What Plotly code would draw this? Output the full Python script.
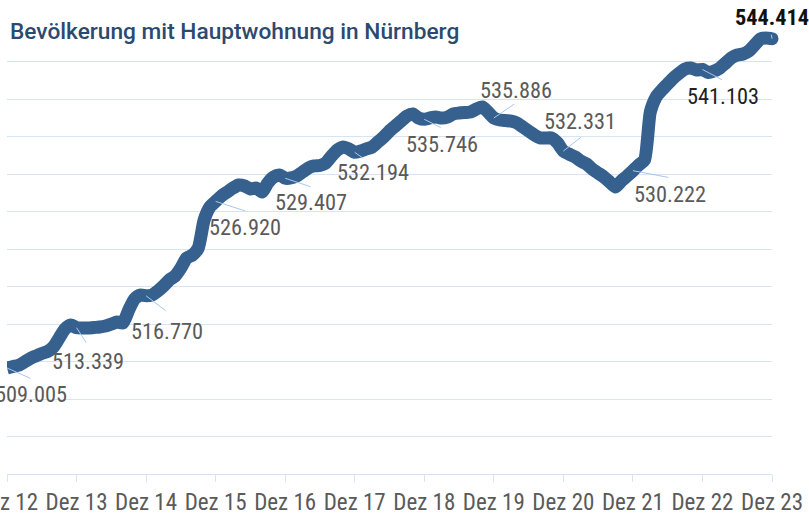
import plotly.graph_objects as go

# Monthly population (thousands), Dez 2012 ... Dez 2023
values = [
    509.005, 509.17, 509.30, 509.65, 510.03, 510.30, 510.56, 510.78, 511.26, 512.23, 513.20, 513.63,
    513.339, 513.30, 513.30, 513.36, 513.41, 513.52, 513.73, 513.95, 513.84, 515.24, 516.42, 516.85,
    516.770, 516.85, 517.28, 517.82, 518.47, 518.90, 519.76, 520.83, 521.15, 521.90, 524.90, 526.32,
    526.920, 527.50, 527.93, 528.36, 528.68, 528.58, 528.25, 528.36, 527.93, 528.90, 529.54, 529.76,
    529.407, 529.44, 529.65, 530.08, 530.51, 530.73, 530.78, 531.05, 531.80, 532.45, 532.77, 532.56,
    532.194, 532.34, 532.56, 532.77, 533.31, 533.85, 534.49, 535.03, 535.56, 536.10, 536.32, 535.89,
    535.746, 535.89, 535.99, 535.89, 535.99, 536.32, 536.42, 536.48, 536.53, 536.85, 537.07, 536.53,
    535.886, 535.67, 535.61, 535.56, 535.35, 534.92, 534.49, 534.06, 533.74, 533.74, 533.74, 533.20,
    532.331, 532.00, 531.70, 531.26, 530.94, 530.40, 529.97, 529.54, 529.00, 528.47, 529.11, 529.65,
    530.222, 530.83, 531.37, 536.53, 538.15, 538.90, 539.54, 540.19, 540.72, 541.16, 541.26, 541.05,
    541.103, 540.78, 540.94, 541.26, 541.80, 542.34, 542.66, 542.77, 543.09, 543.74, 544.38, 544.49,
    544.414,
]
months = list(range(len(values)))

tick_months = [0, 12, 24, 36, 48, 60, 72, 84, 96, 108, 120, 132]
tick_labels = ["Dez 12", "Dez 13", "Dez 14", "Dez 15", "Dez 16", "Dez 17",
               "Dez 18", "Dez 19", "Dez 20", "Dez 21", "Dez 22", "Dez 23"]

label_months = tick_months
label_texts = ["509.005", "513.339", "516.770", "526.920", "529.407", "532.194",
               "535.746", "535.886", "532.331", "530.222", "541.103", "544.414"]

# pixel offsets for leader lines (ax, ay) and text centers (xshift, yshift)
leader = [(25, 11), (11, 17), (21, 16), (31, 10), (27, 9), (10, 7),
          (18, 9), (22, -15), (19, -15), (37, 7), (21, 11), (-1, -6)]
textpos = [(24, -26), (11, -33), (21, -35), (29, -26), (26, -24), (18, -20),
           (18, -25), (22, 28), (17, 30), (37, -23), (21, -27), (0, 22)]
text_colors = ["#5a5a5a"] * 10 + ["#222222", "#111111"]

FONT = "Roboto Condensed"
LINE = "#36618f"
GRID = "#d6e4f4"
LEAD = "#a9c8ec"

fig = go.Figure()
fig.add_trace(go.Scatter(x=months, y=values, mode="lines",
                         line=dict(color=LINE, width=13, shape="spline", smoothing=0.6),
                         hoverinfo="skip"))
fig.add_trace(go.Scatter(x=[months[-1]], y=[values[-1]], mode="markers",
                         marker=dict(color=LINE, size=13), cliponaxis=False, hoverinfo="skip"))

annotations = []
for m, t, (ax, ay), (xs, ys), c in zip(label_months, label_texts, leader, textpos, text_colors):
    v = values[m]
    annotations.append(dict(x=m, y=v, xref="x", yref="y", text=" ", font=dict(size=1),
                            showarrow=True, arrowhead=0, arrowwidth=1, arrowcolor=LEAD,
                            ax=ax, ay=ay, standoff=0))
    bold = t == "544.414"
    annotations.append(dict(x=m, y=v, xref="x", yref="y",
                            text=("<b>%s</b>" % t) if bold else t,
                            showarrow=False, xshift=xs, yshift=ys,
                            xanchor="center", yanchor="middle",
                            font=dict(family=FONT, size=22.3, color=c)))

px_per_unit = 9.3
y_bottom = 509.005 - (474 - 368) / px_per_unit
y_top = 509.005 + (368 - 30) / px_per_unit

fig.update_layout(
    width=809, height=517,
    margin=dict(l=7, r=37, t=30, b=43, autoexpand=False),
    paper_bgcolor="white", plot_bgcolor="white",
    showlegend=False,
    title=dict(text="Bevölkerung mit Hauptwohnung in Nürnberg",
               x=10 / 809, xanchor="left", xref="container",
               y=1 - 31 / 517, yanchor="middle",
               font=dict(family="Roboto", size=22.7, weight=500, color="#2c4a70")),
    annotations=annotations,
    xaxis=dict(range=[0, 132], tickvals=tick_months, ticktext=tick_labels,
               automargin=False, ticklabeloverflow="allow",
               showgrid=False, zeroline=False, showline=True, linecolor=GRID, linewidth=1,
               ticks="outside", ticklen=7, tickcolor=GRID,
               tickfont=dict(family=FONT, size=23, color="#5a5a5a")),
    yaxis=dict(range=[y_bottom, y_top], tick0=y_bottom, dtick=37.5 / px_per_unit,
               automargin=False,
               showgrid=True, gridcolor=GRID, gridwidth=1, zeroline=False,
               showticklabels=False, ticks=""),
)

fig.write_html("out.html", config={"displayModeBar": False},
               post_script="document.body.style.margin='0';")
